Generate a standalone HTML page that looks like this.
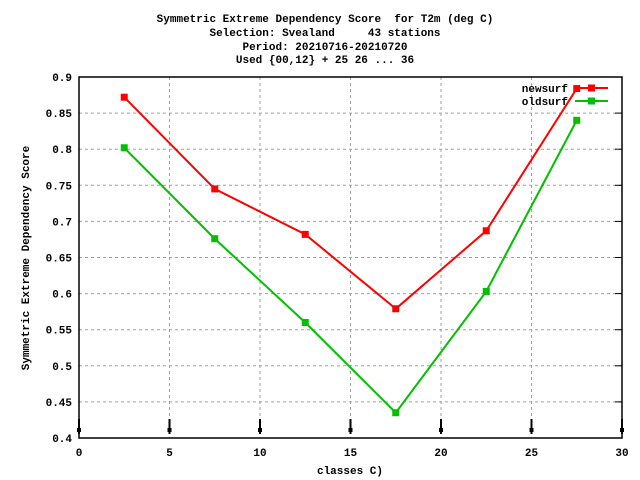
<!DOCTYPE html>
<html><head><meta charset="utf-8"><style>
body{margin:0;background:#fff}
svg{display:block;font-family:"Liberation Mono",monospace;font-weight:bold;font-size:11px}
text{white-space:pre}
</style></head><body>
<svg id="c" width="640" height="480">
<g text-anchor="middle">
<text x="325" y="22" xml:space="preserve">Symmetric Extreme Dependency Score  for T2m (deg C)</text>
<text x="325" y="36" xml:space="preserve">Selection: Svealand     43 stations</text>
<text x="325" y="50">Period: 20210716-20210720</text>
<text x="325" y="63">Used {00,12} + 25 26 ... 36</text>
</g>
<g id="grid"></g>
<g id="axes"></g>
<text transform="translate(29,258) rotate(-90)" text-anchor="middle">Symmetric Extreme Dependency Score</text>
<text x="350" y="474" text-anchor="middle">classes C)</text>
<g id="series"></g>
<g id="legend" text-anchor="end"></g>
</svg>
<script>
const xTicks=[0,5,10,15,20,25,30];
const yTicks=[0.4,0.45,0.5,0.55,0.6,0.65,0.7,0.75,0.8,0.85,0.9];
const yTickLabels=["0.4","0.45","0.5","0.55","0.6","0.65","0.7","0.75","0.8","0.85","0.9"];
const classes=[2.5,7.5,12.5,17.5,22.5,27.5];
const newsurf=[0.872,0.745,0.682,0.579,0.687,0.884];
const oldsurf=[0.802,0.676,0.560,0.435,0.603,0.840];
const L=79,R=622,T=77,B=438;
const sx=v=>L+(v-0)/(30-0)*(R-L);
const sy=v=>B-(v-0.4)/(0.9-0.4)*(B-T);
const NS="http://www.w3.org/2000/svg";
function mk(tag,attrs,parent,txt){const e=document.createElementNS(NS,tag);for(const k in attrs)e.setAttribute(k,attrs[k]);if(txt!==undefined)e.textContent=txt;document.getElementById(parent).appendChild(e);return e;}
xTicks.forEach(t=>{
 const x=sx(t);
 if(t>0&&t<30){const g=mk('line',{x1:x,x2:x,y1:T,y2:B,stroke:'#a0a0a0','stroke-dasharray':'3,3'},'grid');
 
 }
 const l=mk('text',{x:x,y:456,'text-anchor':'middle'},'axes',String(t));
 
 
 const m=mk('line',{x1:x,x2:x,y1:419,y2:434,stroke:'#000','stroke-width':2},'axes');
 
 
 const d=mk('rect',{x:x-2,y:428,width:4,height:4,fill:'#000'},'axes');
 
 
});
yTicks.forEach((t,i)=>{
 const y=sy(t);
 if(i>0&&i<yTicks.length-1){const g=mk('line',{x1:L,x2:R,y1:y,y2:y,stroke:'#a0a0a0','stroke-dasharray':'3,3'},'grid');
 
 }
 const tk=mk('line',{x1:R-7,x2:R,y1:y,y2:y,stroke:'#000'},'axes');
 
 
 const l=mk('text',{x:72,y:y+4,'text-anchor':'end'},'axes',yTickLabels[i]);
 
 
});
const fr=mk('rect',{x:L,y:T,width:R-L,height:B-T,fill:'none',stroke:'#000','stroke-width':1.5},'axes');


function series(vals,color,name,ly){
 const pts=classes.map((c,i)=>sx(c)+','+sy(vals[i])).join(' ');
 const p=mk('polyline',{points:pts,fill:'none',stroke:color,'stroke-width':2},'series');
 
 
 classes.forEach((c,i)=>{
  const r=mk('rect',{x:sx(c)-3.5,y:sy(vals[i])-3.5,width:7,height:7,fill:color},'series');
  
  
 });
 const t=mk('text',{x:568,y:ly+4},'legend',name);
 
 
 const ll=mk('line',{x1:575,x2:608,y1:ly,y2:ly,stroke:color,'stroke-width':2},'legend');
 
 
 const lm=mk('rect',{x:588,y:ly-3.5,width:7,height:7,fill:color},'legend');
 
 
}
series(newsurf,'#ff0000','newsurf',88);
series(oldsurf,'#00c000','oldsurf',101);
</script>
</body></html>
